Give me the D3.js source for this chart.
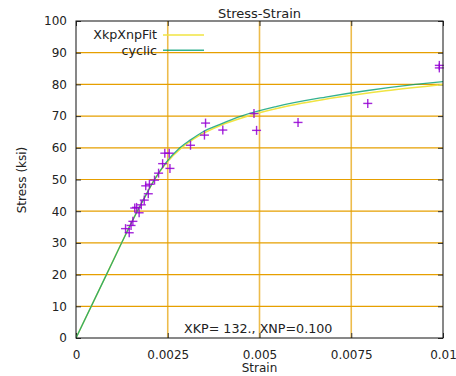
<!DOCTYPE html>
<html><head><meta charset="utf-8">
<script src="https://cdn.jsdelivr.net/npm/d3@7/dist/d3.min.js"></script>
<style>body{margin:0;background:#fff}svg{display:block}text{font-family:"DejaVu Sans",sans-serif;fill:#222}</style>
</head><body><svg id="c" width="456" height="376"></svg>
<script>
// Data
const xTicks = [0, 0.0025, 0.005, 0.0075, 0.01];
const xTickLabels = ["0", "0.0025", "0.005", "0.0075", "0.01"];
const yTicks = [0,10,20,30,40,50,60,70,80,90,100];
const testStrain = [0.00135,0.00145,0.00150,0.00155,0.00160,0.00165,0.00172,0.00178,0.00186,0.00190,0.00197,0.00200,0.00214,0.00225,0.00236,0.00242,0.00254,0.00256,0.00312,0.00353,0.00350,0.00400,0.00485,0.00492,0.00605,0.00795,0.00990,0.00990];
const testStress = [34.5,33.2,35.5,36.8,41.0,41.2,39.5,42.0,43.5,48.0,45.5,48.5,49.8,52.0,55.0,58.3,58.3,53.5,60.8,67.8,64.0,65.6,70.8,65.5,68.0,74.0,85.2,86.0];
const fitStress   = [0, 20, 40, 45, 50, 55, 60, 62.5, 65, 67.5, 70, 73, 76, 78, 80];
const fitStrain   = [0, 0.00083, 0.00167, 0.0019, 0.00214, 0.00245, 0.00288, 0.00317, 0.00355, 0.00403, 0.00468, 0.00571, 0.00717, 0.00844, 0.0100];
const cycStress   = [0, 20, 40, 45, 50, 55, 60, 62.5, 65, 67.5, 70, 73, 76, 78, 80, 80.9];
const cycStrain   = [0, 0.00083, 0.00167, 0.0019, 0.00214, 0.00243, 0.00283, 0.00312, 0.00345, 0.00394, 0.00450, 0.00545, 0.00680, 0.00790, 0.00925, 0.0100];
const title = "Stress-Strain", xLabel = "Strain", yLabel = "Stress (ksi)";
const seriesNames = ["XkpXnpFit", "cyclic"];
const note = "XKP= 132., XNP=0.100";

const svg = d3.select("#c");
const L=76, R=443, T=21, B=338;
const x = d3.scaleLinear().domain([0,0.01]).range([L,R]);
const y = d3.scaleLinear().domain([0,100]).range([B,T]);
const orange="#e69f00", yellow="#f0e442", green="#009e73", purple="#9400d3";

// horizontal grid
svg.append("g").selectAll("line").data(yTicks.filter(d=>d>0&&d<100)).join("line")
  .attr("x1",L).attr("x2",R).attr("y1",d=>y(d)).attr("y2",d=>y(d))
  .attr("stroke",orange).attr("stroke-width",1.2);
// vertical grid
svg.append("g").selectAll("line").data(xTicks.filter(d=>d>0&&d<0.01)).join("line")
  .attr("y1",T).attr("y2",B).attr("x1",d=>x(d)).attr("x2",d=>x(d))
  .attr("stroke",orange).attr("stroke-opacity",0.7).attr("stroke-width",1.6);

// axes with inward ticks
const ax = svg.append("g");
ax.append("g").attr("transform",`translate(0,${B})`).call(d3.axisBottom(x).tickValues(xTicks).tickFormat((d,i)=>xTickLabels[i]).tickSize(-5).tickPadding(12));
ax.append("g").attr("transform",`translate(0,${T})`).call(d3.axisTop(x).tickValues(xTicks).tickFormat("").tickSize(-5));
ax.append("g").attr("transform",`translate(${L},0)`).call(d3.axisLeft(y).tickValues(yTicks).tickSize(-5).tickPadding(9));
ax.append("g").attr("transform",`translate(${R},0)`).call(d3.axisRight(y).tickValues(yTicks).tickFormat("").tickSize(-5));
ax.selectAll(".domain").remove();
ax.selectAll(".tick line").attr("stroke","#333");
ax.selectAll(".tick text").attr("font-size",12).attr("fill","#222").attr("font-family","DejaVu Sans, sans-serif");

// curves
const line = d3.line().x(d=>x(d[0])).y(d=>y(d[1])).curve(d3.curveMonotoneX);
const fitData = fitStrain.map((s,i)=>[s,fitStress[i]]);
const cycData = cycStrain.map((s,i)=>[s,cycStress[i]]);
svg.append("clipPath").attr("id","cp").append("rect").attr("x",L).attr("y",T).attr("width",R-L).attr("height",B-T);
svg.append("path").attr("d",line(fitData)).attr("fill","none").attr("stroke",yellow).attr("stroke-width",1.5).attr("clip-path","url(#cp)");
svg.append("path").attr("d",line(cycData)).attr("fill","none").attr("stroke",green).attr("stroke-width",1.3).attr("stroke-opacity",0.8).attr("clip-path","url(#cp)");

// points
const pts = svg.append("g").attr("stroke",purple).attr("stroke-width",1.4).attr("stroke-opacity",0.85);
testStrain.forEach((s,i)=>{
  const px=x(s), py=y(testStress[i]);
  pts.append("line").attr("x1",px-4.5).attr("x2",px+4.5).attr("y1",py).attr("y2",py);
  pts.append("line").attr("x1",px).attr("x2",px).attr("y1",py-4.5).attr("y2",py+4.5);
});

// border
svg.append("rect").attr("x",L).attr("y",T).attr("width",R-L).attr("height",B-T).attr("fill","none").attr("stroke","#111").attr("stroke-width",1);

// legend
const leg=[[yellow,1.5],[green,1.5]];
seriesNames.forEach((n,i)=>{
  const ly=35+i*15.3;
  svg.append("text").attr("x",157).attr("y",ly).attr("dy","0.35em").attr("text-anchor","end").attr("font-size",12.7).text(n);
  svg.append("line").attr("x1",163).attr("x2",204).attr("y1",ly).attr("y2",ly).attr("stroke",leg[i][0]).attr("stroke-width",leg[i][1]).attr("stroke-opacity",i?0.8:1);
});

// texts
svg.append("text").attr("x",259.5).attr("y",18).attr("text-anchor","middle").attr("font-size",13).text(title);
svg.append("text").attr("x",259.5).attr("y",372).attr("text-anchor","middle").attr("font-size",12).text(xLabel);
svg.append("text").attr("transform","translate(22,180) rotate(-90)").attr("dy","0.35em").attr("text-anchor","middle").attr("font-size",12).text(yLabel);
svg.append("text").attr("x",184).attr("y",333).attr("font-size",12.7).text(note);
</script></body></html>
